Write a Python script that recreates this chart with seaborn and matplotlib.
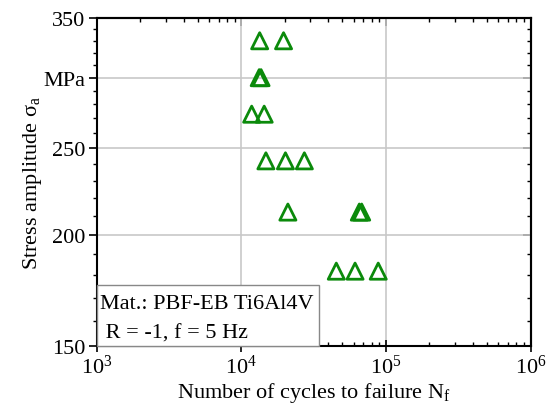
import matplotlib
matplotlib.use("Agg")
import matplotlib.pyplot as plt
import matplotlib.ticker as mticker
import matplotlib.patches as mpatches
import seaborn as sns
import numpy as np
import pandas as pd

# Data
cycles = [13400, 19600,
          13300, 13700,
          11800, 14400,
          14800, 20200, 27300,
          21000, 65500, 68000,
          45400, 61200, 88500]
stress = [330, 330,
          300, 300,
          273, 273,
          242, 242, 242,
          212, 212, 212,
          182, 182, 182]
y_ticks = [150, 200, 250, 300, 350]
y_ticklabels = ["150", "200", "250", "MPa", "350"]
x_ticks = [1e3, 1e4, 1e5, 1e6]
x_ticklabels = [r"$\mathregular{10^{3}}$", r"$\mathregular{10^{4}}$",
                r"$\mathregular{10^{5}}$", r"$\mathregular{10^{6}}$"]
info_line1 = "Mat.: PBF-EB Ti6Al4V"
info_line2 = " R = -1, f = 5 Hz"

df = pd.DataFrame({"cycles": cycles, "stress": stress})

sns.set_theme(style="white")
plt.rcParams["font.family"] = ["Liberation Serif", "DejaVu Serif"]
plt.rcParams["mathtext.fontset"] = "custom"
plt.rcParams["mathtext.rm"] = "Liberation Serif"
plt.rcParams["mathtext.it"] = "Liberation Serif:italic"

FS = 16

fig = plt.figure(figsize=(5.54, 4.06), dpi=100)
ax = fig.add_axes([0.1745, 0.1453, 0.9576 - 0.1745, 0.9532 - 0.1453])

green = "#0b8a0b"
sns.scatterplot(data=df, x="cycles", y="stress", ax=ax, marker="^", s=135,
                facecolors="none", edgecolor=green, linewidth=2.0, zorder=3)

ax.set_xscale("log")
ax.set_yscale("log")
ax.set_xlim(1e3, 1e6)
ax.set_ylim(150, 350)

minor_y = [v for v in range(160, 350, 10) if v % 50 != 0]

ax.set_xticks(x_ticks)
ax.set_xticklabels(x_ticklabels)
ax.xaxis.set_minor_locator(mticker.LogLocator(base=10, subs=np.arange(2, 10)))
ax.xaxis.set_minor_formatter(mticker.NullFormatter())

ax.set_yticks(y_ticks)
ax.set_yticklabels(y_ticklabels)
ax.yaxis.set_minor_locator(mticker.FixedLocator(minor_y))
ax.yaxis.set_minor_formatter(mticker.NullFormatter())

ax.grid(True, which="major", color="#c8c8c8", linewidth=1.2, zorder=0)
ax.set_axisbelow(True)

for s in ax.spines.values():
    s.set_color("black")
    s.set_linewidth(1.5)

ax.tick_params(axis="both", which="major", labelsize=FS, colors="black",
               length=6, width=1.2, pad=2)
ax.tick_params(axis="both", which="minor", length=3, width=1.0, color="black")
ax.tick_params(axis="y", which="both", left=True, right=False, direction="out")
ax.tick_params(axis="x", which="both", bottom=True, top=False, direction="in")
ax.tick_params(axis="x", which="major", direction="inout", length=8)

# right and top ticks inward
ax2 = ax.secondary_yaxis("right")
ax2.set_yticks(y_ticks)
ax2.set_yticklabels([])
ax2.yaxis.set_minor_locator(mticker.FixedLocator(minor_y))
ax2.yaxis.set_minor_formatter(mticker.NullFormatter())
ax2.tick_params(axis="y", which="major", direction="in", length=6, width=1.2, colors="black")
ax2.tick_params(axis="y", which="minor", direction="in", length=3, width=1.0, colors="black")
ax2.spines["right"].set_linewidth(1.5)
ax2.spines["right"].set_color("black")

ax3 = ax.secondary_xaxis("top")
ax3.set_xticks(x_ticks)
ax3.set_xticklabels([])
ax3.xaxis.set_minor_locator(mticker.LogLocator(base=10, subs=np.arange(2, 10)))
ax3.xaxis.set_minor_formatter(mticker.NullFormatter())
ax3.tick_params(axis="x", which="major", direction="in", length=6, width=1.2, colors="black")
ax3.tick_params(axis="x", which="minor", direction="in", length=3, width=1.0, colors="black")
ax3.spines["top"].set_linewidth(1.5)
ax3.spines["top"].set_color("black")

ax.set_xlabel(r"Number of cycles to failure N$_\mathregular{f}$", fontsize=FS, color="black", labelpad=2)
ax.set_ylabel(r"Stress amplitude $\mathregular{\sigma_a}$", fontsize=FS, color="black", labelpad=0)

# info box in the lower-left corner
box = mpatches.Rectangle((0, 0), 0.512, 0.186, transform=ax.transAxes,
                         facecolor="white", edgecolor="#888888", linewidth=1.0,
                         zorder=4, clip_on=False)
ax.add_patch(box)
ax.text(0.008, 0.116, info_line1, transform=ax.transAxes, ha="left", va="baseline",
        fontsize=FS, color="black", zorder=5)
ax.text(0.008, 0.027, info_line2, transform=ax.transAxes, ha="left", va="baseline",
        fontsize=FS, color="black", zorder=5)

fig.savefig("out.png", dpi=100)
